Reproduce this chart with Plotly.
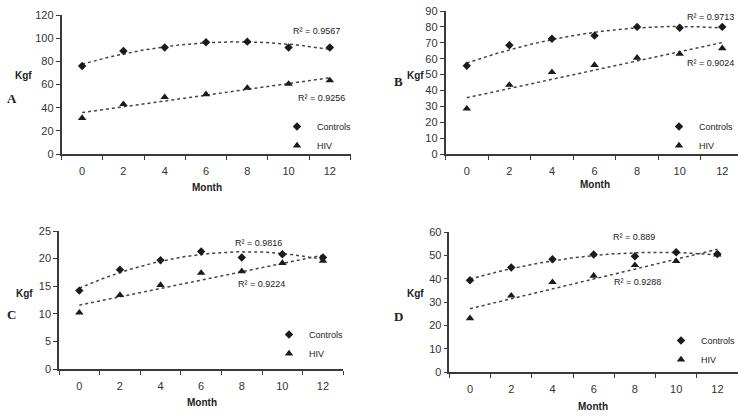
import numpy as np
import plotly.graph_objects as go

# ---------------- data ----------------
months = [0, 2, 4, 6, 8, 10, 12]
a_controls = [76, 89, 92, 96.5, 97, 92, 92]
a_hiv = [31, 43, 49, 51.5, 57, 60.5, 63.5]
b_controls = [55.5, 68.5, 72.5, 74.5, 80, 79.5, 80]
b_hiv = [28.5, 43.5, 51.5, 56, 60.5, 63, 66.5]
c_controls = [14.2, 18, 19.7, 21.3, 20.2, 20.8, 20.2]
c_hiv = [10.2, 13.4, 15.2, 17.4, 17.7, 19.2, 19.6]
d_controls = [39.3, 44.8, 48.3, 50.4, 49.6, 51.3, 50.6]
d_hiv = [23, 32.7, 38.5, 41.2, 45.8, 47.5, 50.3]
r2_controls = ["0.9567", "0.9713", "0.9816", "0.889"]
r2_hiv = ["0.9256", "0.9024", "0.9224", "0.9288"]
panel_labels = ["A", "B", "C", "D"]
y_max = [120, 90, 25, 60]
y_dtick = [20, 10, 5, 10]
controls_series = [a_controls, b_controls, c_controls, d_controls]
hiv_series = [a_hiv, b_hiv, c_hiv, d_hiv]

# ---------------- layout helpers ----------------
W, H = 738, 416
def px(x):
    return x / W
def py(y):
    return 1 - y / H

# pixel geometry of each panel
geo = [
    dict(x0=61.5, x1=350.5, xr=[-1, 13], y0=15, y1=154,
         kgf=(23, 75), let=(5, 98), month=(207, 188),
         r2c=(316, 31), r2h=(321, 98), leg=(277, 112)),
    dict(x0=445.5, x1=738, xr=[-1, 12.74], y0=11, y1=154,
         kgf=(415, 75), let=(392, 82), month=(595, 184),
         r2c=(710, 17), r2h=(710, 63), leg=(659, 112)),
    dict(x0=59, x1=343.3, xr=[-1, 13], y0=231, y1=369,
         kgf=(24, 293), let=(5, 314), month=(202, 402),
         r2c=(258, 243), r2h=(261, 284), leg=(269, 320)),
    dict(x0=449.4, x1=738, xr=[-1, 13], y0=232, y1=372,
         kgf=(415, 293), let=(392, 316), month=(593, 406),
         r2c=(634, 237), r2h=(637, 282), leg=(661, 326)),
]

FONT = "Liberation Sans, Arial, sans-serif"
AXC = "#3a3a3a"
MK = "#1b1b1b"

fig = go.Figure()
annotations = []
tfine = np.linspace(0, 12, 121)

for i in range(4):
    g = geo[i]
    sfx = "" if i == 0 else str(i + 1)
    xa, ya = "x" + sfx, "y" + sfx
    leg = "legend" + sfx
    ctrl = controls_series[i]
    hiv = hiv_series[i]

    # trend lines fitted from data (2nd order for controls, linear for HIV)
    pc = np.polyfit(months, ctrl, 2)
    ph = np.polyfit(months, hiv, 1)
    fig.add_trace(go.Scatter(x=tfine, y=np.polyval(pc, tfine), mode="lines",
                             line=dict(color="#444", width=1.5, dash="dot"),
                             xaxis=xa, yaxis=ya, showlegend=False, hoverinfo="skip"))
    fig.add_trace(go.Scatter(x=tfine, y=np.polyval(ph, tfine), mode="lines",
                             line=dict(color="#444", width=1.5, dash="dot"),
                             xaxis=xa, yaxis=ya, showlegend=False, hoverinfo="skip"))
    fig.add_trace(go.Scatter(x=months, y=ctrl, mode="markers", name="Controls",
                             marker=dict(symbol="diamond", size=6.5, color=MK),
                             xaxis=xa, yaxis=ya, legend=leg))
    fig.add_trace(go.Scatter(x=months, y=hiv, mode="markers", name="HIV",
                             marker=dict(symbol="triangle-up", size=7.5, color=MK),
                             xaxis=xa, yaxis=ya, legend=leg))

    fig.update_layout({
        "xaxis" + sfx: dict(
            domain=[px(g["x0"]), px(g["x1"])], range=g["xr"], anchor=ya,
            tickvals=months, ticktext=[str(m) for m in months], ticks="",
            ticklabelstandoff=6,
            minor=dict(tickvals=list(range(-1, 14, 2)), ticks="outside",
                       ticklen=4, tickwidth=1.2, tickcolor=AXC),
            showline=True, linecolor=AXC, linewidth=1.5, showgrid=False,
            zeroline=False, tickfont=dict(family=FONT, size=11, color="#333"),
            fixedrange=True),
        "yaxis" + sfx: dict(
            domain=[py(g["y1"]), py(g["y0"])], range=[0, y_max[i]], anchor=xa,
            dtick=y_dtick[i], tick0=0, ticks="outside", ticklen=4, tickwidth=1.2,
            tickcolor=AXC, showline=True, linecolor=AXC, linewidth=1.5,
            showgrid=False, zeroline=False,
            tickfont=dict(family=FONT, size=11, color="#333"), fixedrange=True),
        leg: dict(x=px(g["leg"][0]), y=py(g["leg"][1]), xanchor="left",
                  yanchor="top", bgcolor="rgba(0,0,0,0)", itemwidth=30,
                  font=dict(family=FONT, size=9, color="#222"),
                  tracegroupgap=0),
    })

    annotations += [
        dict(text="<b>Kgf</b>", x=px(g["kgf"][0]), y=py(g["kgf"][1]),
             font=dict(family=FONT, size=10, color="#222")),
        dict(text="<b>" + panel_labels[i] + "</b>", x=px(g["let"][0]), y=py(g["let"][1]),
             xanchor="left", font=dict(family="Liberation Serif, Times New Roman, serif",
                                        size=13, color="#222")),
        dict(text="<b>Month</b>", x=px(g["month"][0]), y=py(g["month"][1]),
             font=dict(family=FONT, size=10, color="#222")),
        dict(text="R² = " + r2_controls[i], x=px(g["r2c"][0]), y=py(g["r2c"][1]),
             font=dict(family=FONT, size=9, color="#222")),
        dict(text="R² = " + r2_hiv[i], x=px(g["r2h"][0]), y=py(g["r2h"][1]),
             font=dict(family=FONT, size=9, color="#222")),
    ]

for a in annotations:
    a.update(xref="paper", yref="paper", showarrow=False)
    a.setdefault("xanchor", "center")
    a.setdefault("yanchor", "middle")

fig.update_layout(
    width=W, height=H, margin=dict(l=0, r=0, t=0, b=0, autoexpand=False),
    paper_bgcolor="white", plot_bgcolor="white",
    annotations=annotations, showlegend=True,
)

fig.write_html("out.html", config={"displayModeBar": False})
